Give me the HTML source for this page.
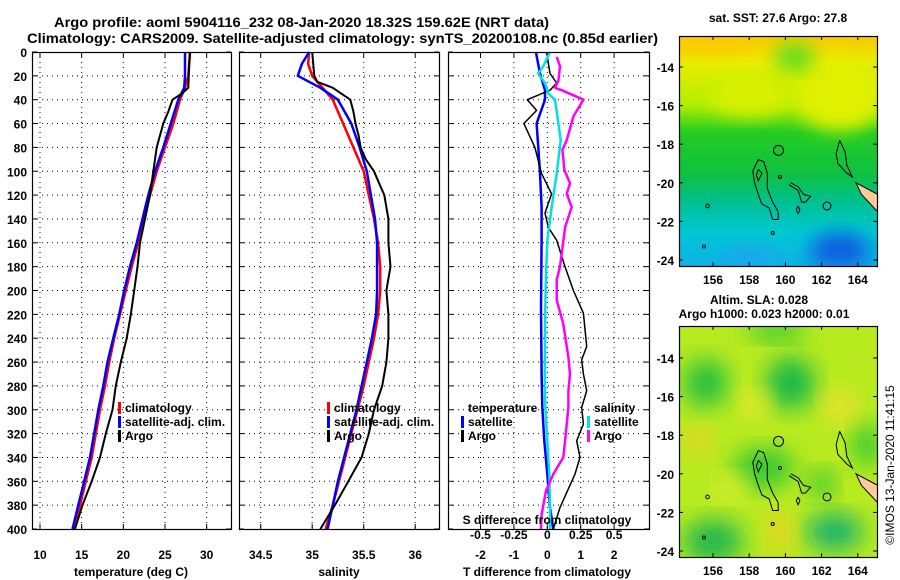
<!DOCTYPE html>
<html><head><meta charset="utf-8">
<style>
html,body{margin:0;padding:0;background:#fff;}
svg{display:block;font-family:"Liberation Sans",Arial,sans-serif;font-weight:bold;}
text{font-size:12px;fill:#000;}
</style></head>
<body>
<svg id="chart" width="900" height="580" viewBox="0 0 900 580" xmlns="http://www.w3.org/2000/svg">
<defs>
<filter id="blur1" x="-30%" y="-30%" width="160%" height="160%"><feGaussianBlur stdDeviation="9"/></filter>
<filter id="blur2" x="-30%" y="-30%" width="160%" height="160%"><feGaussianBlur stdDeviation="12"/></filter>
<clipPath id="clipTop"><rect x="679" y="36" width="198" height="230"/></clipPath>
<clipPath id="clipBot"><rect x="679" y="326" width="198" height="231"/></clipPath>
<linearGradient id="sstGrad" x1="0" y1="0" x2="0" y2="1">
<stop offset="0" stop-color="#f8c800"/><stop offset="0.12" stop-color="#e8ec00"/>
<stop offset="0.3" stop-color="#b0ee00"/><stop offset="0.42" stop-color="#22cc22"/>
<stop offset="0.6" stop-color="#10c040"/><stop offset="0.72" stop-color="#00c090"/>
<stop offset="0.85" stop-color="#00c8d0"/><stop offset="1" stop-color="#10b0e8"/>
</linearGradient>
</defs>
<text x="54" y="27" textLength="495" lengthAdjust="spacingAndGlyphs" style="font-size:14px">Argo profile: aoml 5904116_232 08-Jan-2020 18.32S 159.62E (NRT data)</text>
<text x="27" y="43" textLength="631" lengthAdjust="spacingAndGlyphs" style="font-size:14px">Climatology: CARS2009. Satellite-adjusted climatology: synTS_20200108.nc (0.85d earlier)</text>
<g id="panels"></g>
<g id="maps"></g>
<text transform="translate(894,465) rotate(-90)" text-anchor="middle" style="font-weight:normal;font-size:12px">©IMOS 13-Jan-2020 11:41:15</text>
</svg>
<script>
// ---- data ----
const depthTicks = [0,20,40,60,80,100,120,140,160,180,200,220,240,260,280,300,320,340,360,380,400];
const tempTicks = [10,15,20,25,30];
const salTicks = [34.5,35,35.5,36];
const dTTicks = [-2,-1,0,1,2];
const dSTicks = [-0.5,-0.25,0,0.25,0.5];
const dSTickLabels = ["-0.5","-0.25","0","0.25","0.5"];

const tArgoDepth = [0,10,30,35,40,50,60,80,100,120,140,160,180,200,220,240,260,280,300,320,340,360,380,400];
const tArgo = [28.0,27.9,27.8,27.0,25.9,25.4,24.8,24.0,23.6,23.2,22.6,22.0,21.7,21.3,20.9,20.4,19.7,19.1,18.7,17.9,17.2,16.2,15.1,14.2];
const tClimDepth = [0,20,30,40,60,80,100,120,140,160,180,200,220,240,260,280,300,320,340,360,380,400];
const tClim = [28.0,27.8,27.4,26.8,26.0,25.0,24.0,23.2,22.4,21.8,21.0,20.3,19.6,18.9,18.3,17.8,17.2,16.7,16.2,15.5,14.8,14.0];
const tSat = [27.4,27.4,27.3,26.6,25.7,24.8,23.8,23.0,22.3,21.6,20.8,20.1,19.5,18.8,18.1,17.6,17.0,16.5,16.0,15.3,14.6,13.9];

const sArgoDepth = [0,20,25,30,40,50,60,70,80,90,100,110,120,140,160,180,190,200,220,240,260,280,300,320,340,360,380,400];
const sArgo = [35.0,35.02,35.05,35.2,35.37,35.4,35.42,35.45,35.47,35.52,35.6,35.65,35.7,35.74,35.74,35.76,35.74,35.72,35.74,35.74,35.72,35.68,35.6,35.55,35.48,35.35,35.22,35.08];
const sClimDepth = [0,10,20,30,40,60,80,100,120,140,160,180,200,220,240,260,280,300,320,340,360,380,400];
const sClim = [34.97,34.96,35.0,35.1,35.2,35.3,35.4,35.5,35.55,35.6,35.64,35.66,35.66,35.64,35.6,35.55,35.5,35.44,35.38,35.32,35.26,35.2,35.13];
const sSat = [34.97,34.9,34.86,35.08,35.25,35.38,35.46,35.53,35.57,35.61,35.63,35.63,35.63,35.62,35.58,35.53,35.48,35.43,35.37,35.31,35.25,35.2,35.15];

const dTSatDepth = [0,18,32,40,60,80,102,130,158,214,270,298,326,354,382,400];
const dTSat = [-0.34,-0.22,-0.07,-0.07,-0.32,-0.27,-0.22,-0.17,-0.17,-0.19,-0.17,-0.15,-0.09,0,0.08,0.18];
const dTArgoDepth = [0,18,26,32,40,49,60,80,102,119,135,147,158,180,200,219,247,258,270,284,298,312,326,340,354,382,400];
const dTArgo = [-0.02,0.08,0.28,0.08,-0.6,-0.32,-0.7,-0.37,-0.17,0.13,-0.07,0.03,0.28,0.53,0.78,1.08,1.18,1.03,1.08,1.18,1.03,1.08,0.88,0.98,0.83,0.38,0.18];
const dSSatDepth = [0,12,18,26,35,40,60,74,102,130,158,186,214,270,298,326,354,382,400];
const dSSat = [0.02,-0.03,-0.068,-0.018,0.008,0.058,0.083,0.1,0.07,0.033,0,-0.01,-0.015,-0.018,-0.015,0,0.015,0.02,0.02];
const dSArgoDepth = [4,12,24,30,32,40,54,74,82,99,110,119,130,147,180,191,208,228,256,270,284,298,326,340,354,368,388,400];
const dSArgo = [0.07,0.095,0.083,0.058,0.108,0.27,0.195,0.145,0.113,0.128,0.17,0.145,0.183,0.133,0.095,0.07,0.07,0.12,0.158,0.17,0.158,0.158,0.133,0.12,0.045,-0.01,-0.043,-0.048];

const latTicks = [-14,-16,-18,-20,-22,-24];
const lonTicks = [156,158,160,162,164];

// ---- helpers ----
const NS = "http://www.w3.org/2000/svg";
function mk(tag, attrs, parent){ const e=document.createElementNS(NS,tag); for(const k in attrs) e.setAttribute(k,attrs[k]); if(parent) parent.appendChild(e); return e; }
function txt(x,y,s,anchor,parent,size){ const t=mk('text',{x:x,y:y,'text-anchor':anchor||'start'},parent); if(size) t.style.fontSize=size+'px'; t.textContent=s; return t; }
const PY0=52, PY1=529;
const yD = d => PY0 + (PY1-PY0)*d/400;

const panels = document.getElementById('panels');

function makePanel(name, x0, x1, xs){
  const g = mk('g',{},panels);
  
  
  depthTicks.forEach(d=>{ if(d>0&&d<400){ const l=mk('line',{x1:x0,x2:x1,y1:yD(d),y2:yD(d),stroke:'#000','stroke-width':1,'stroke-dasharray':'1,4'},g);
      }
    mk('line',{x1:x0,x2:x0+5,y1:yD(d),y2:yD(d),stroke:'#000'},g);
    mk('line',{x1:x1-5,x2:x1,y1:yD(d),y2:yD(d),stroke:'#000'},g);
  });
  return g;
}
function frame(g,x0,x1){ const r=mk('rect',{x:x0+0.5,y:PY0+0.5,width:x1-x0,height:PY1-PY0,fill:'none',stroke:'#000','stroke-width':1.2},g);
    }
function line(g, xs, vals, depths, color, w, name){
  const pts = vals.map((v,i)=> xs(v).toFixed(1)+','+yD(depths[i]).toFixed(1)).join(' ');
  const p = mk('polyline',{points:pts,fill:'none',stroke:color,'stroke-width':w,'stroke-linejoin':'round'},g);
  
  
}
function vgrid(g,x,){ const l=mk('line',{x1:x,x2:x,y1:PY0,y2:PY1,stroke:'#000','stroke-width':1,'stroke-dasharray':'1,4'},g);
   
  mk('line',{x1:x,x2:x,y1:PY1-5,y2:PY1,stroke:'#000'},g); mk('line',{x1:x,x2:x,y1:PY0,y2:PY0+5,stroke:'#000'},g); }
function legendItem(g,x,y,color,label,name){
  mk('rect',{x:x,y:y-10,width:3,height:12,fill:color},g);
  const t=txt(x+7,y,label,'start',g);  
}

// Panel 1: temperature
{
  const x0=32,x1=231; const xs=v=>40+(v-10)*8.333;
  const g=makePanel('temperature-panel',x0,x1,xs);
  tempTicks.forEach(t=>{ vgrid(g,xs(t)); const l=txt(xs(t),559,String(t),'middle',g);   });
  depthTicks.forEach(d=>{ const l=txt(27,yD(d)+5,String(d),'end',g);   });
  line(g,xs,tClim,tClimDepth,'#ff0000',2.5,'temp-climatology-line');
  line(g,xs,tSat,tClimDepth,'#0000ff',2.5,'temp-satellite-line');
  line(g,xs,tArgo,tArgoDepth,'#000000',2,'temp-argo-line');
  frame(g,x0,x1);
  const t=txt(131,576,'temperature (deg C)','middle',g);  
  legendItem(g,118,412,'#ff0000','climatology','legend-climatology');
  legendItem(g,118,426,'#0000ff','satellite-adj. clim.','legend-satellite');
  legendItem(g,118,440,'#000000','Argo','legend-argo');
}
// Panel 2: salinity
{
  const x0=239,x1=439; const xs=v=>260.7+(v-34.5)*103;
  const g=makePanel('salinity-panel',x0,x1,xs);
  salTicks.forEach(t=>{ vgrid(g,xs(t)); const l=txt(xs(t),559,String(t),'middle',g);   });
  line(g,xs,sClim,sClimDepth,'#ff0000',2.5,'sal-climatology-line');
  line(g,xs,sSat,sClimDepth,'#0000ff',2.5,'sal-satellite-line');
  line(g,xs,sArgo,sArgoDepth,'#000000',2,'sal-argo-line');
  frame(g,x0,x1);
  const t=txt(339,576,'salinity','middle',g);  
  legendItem(g,327,412,'#ff0000','climatology','legend-climatology');
  legendItem(g,327,426,'#0000ff','satellite-adj. clim.','legend-satellite');
  legendItem(g,327,440,'#000000','Argo','legend-argo');
}
// Panel 3: differences
{
  const x0=448,x1=649; const xs=v=>547.3+v*33.4; const xss=v=>547.3+v*133.6;
  const g=makePanel('difference-panel',x0,x1,xs);
  dTTicks.forEach(t=>{ vgrid(g,xs(t)); const l=txt(xs(t),559,String(t),'middle',g);   });
  line(g,xs,dTSat,dTSatDepth,'#0000ff',2.5,'dT-satellite-line');
  line(g,xs,dTArgo,dTArgoDepth,'#000000',1.5,'dT-argo-line');
  line(g,xss,dSSat,dSSatDepth,'#00e0e0',2.5,'dS-satellite-line');
  line(g,xss,dSArgo,dSArgoDepth,'#ff00ff',2.5,'dS-argo-line');
  frame(g,x0,x1);
  dSTicks.forEach((t,i)=>{ const l=txt(xss(t),539,dSTickLabels[i],'middle',g);   });
  const s=txt(547,524,'S difference from climatology','middle',g);  
  const t=txt(547,576,'T difference from climatology','middle',g);  
  const a=txt(468,412,'temperature','start',g);  
  legendItem(g,461,426,'#0000ff','satellite','legend-t-satellite');
  legendItem(g,461,440,'#000000','Argo','legend-t-argo');
  const b=txt(594,412,'salinity','start',g);  
  legendItem(g,587,426,'#00e0e0','satellite','legend-s-satellite');
  legendItem(g,587,440,'#ff00ff','Argo','legend-s-argo');
}

// ---- maps ----
const maps = document.getElementById('maps');
const islands = [
  [[158.5,-18.8],[158.8,-18.9],[159.0,-19.5],[159.0,-20.3],[159.3,-21.0],[159.6,-21.5],[159.6,-21.9],[159.3,-21.9],[159.1,-21.3],[158.7,-21.1],[158.5,-20.6],[158.3,-20.0],[158.2,-19.4],[158.5,-18.8]],
  [[158.5,-19.3],[158.7,-19.5],[158.5,-19.9],[158.4,-19.6],[158.5,-19.3]],
  [[163.0,-17.8],[163.3,-18.4],[163.4,-19.1],[163.7,-19.7],[163.4,-19.5],[162.9,-19.0],[162.8,-18.5],[163.0,-17.8]],
  [[160.3,-20.0],[160.7,-20.2],[161.0,-20.6],[161.4,-20.7],[161.1,-21.0],[160.9,-21.0],[160.7,-20.4],[160.2,-20.1]],
  [[160.7,-21.2],[160.8,-21.4],[160.7,-21.6],[160.6,-21.4],[160.7,-21.2]]
];
const dots = [[162.3,-21.2,0.22],[155.7,-21.2,0.1],[159.3,-22.6,0.08],[155.5,-23.3,0.08],[159.7,-19.7,0.05]];
const land = [[163.9,-20.0],[165.1,-20.6],[165.1,-21.5],[164.2,-20.6]];

function makeMap(name, y0, y1, clip, drawFill){
  const g = mk('g',{},maps);
  
  
  const x0=679,x1=877, lat0=-14, yLat0 = y0===36?67:358;
  const px = lon => 713 + (lon-156)*18.1;
  const py = lat => yLat0 + (lat0-lat)*19.3;
  const inner = mk('g',{'clip-path':'url(#'+clip+')'},g);
  drawFill(inner,px,py,x0,y0,x1,y1);
  const c=mk('g',{},inner);
  islands.forEach(isl=>{ mk('polyline',{points:isl.map(p=>px(p[0]).toFixed(1)+','+py(p[1]).toFixed(1)).join(' '),fill:'none',stroke:'#000','stroke-width':1},c); });
  dots.forEach(d=>mk('circle',{cx:px(d[0]),cy:py(d[1]),r:Math.max(1.5,d[2]*18),fill:'none',stroke:'#000','stroke-width':1},c));
  mk('polygon',{points:land.map(p=>px(p[0])+','+py(p[1])).join(' '),fill:'#ffcc99',stroke:'#000','stroke-width':1},c);
  const pos=mk('circle',{cx:px(159.62),cy:py(-18.32),r:5,fill:'none',stroke:'#000','stroke-width':1},g);
   
  const fr=mk('rect',{x:x0+0.5,y:y0+0.5,width:x1-x0,height:y1-y0,fill:'none',stroke:'#000','stroke-width':1.2},g);
   
  latTicks.forEach(l=>{ const t=txt(674,py(l)+5,String(l),'end',g);  
    mk('line',{x1:x0,x2:x0+4,y1:py(l),y2:py(l),stroke:'#000'},g); mk('line',{x1:x1-4,x2:x1,y1:py(l),y2:py(l),stroke:'#000'},g); });
  lonTicks.forEach(l=>{ const t=txt(px(l),y1+18,String(l),'middle',g);  
    mk('line',{x1:px(l),x2:px(l),y1:y1-4,y2:y1,stroke:'#000'},g); mk('line',{x1:px(l),x2:px(l),y1:y0,y2:y0+4,stroke:'#000'},g); });
  return g;
}
function blob(g,px,py,lon,lat,rx,ry,col,f){ mk('ellipse',{cx:px(lon),cy:py(lat),rx:rx,ry:ry,fill:col,filter:'url(#'+(f||'blur1')+')'},g); }

makeMap('sst-map',36,266,'clipTop',(g,px,py,x0,y0,x1,y1)=>{
  mk('rect',{x:x0,y:y0,width:x1-x0,height:y1-y0,fill:'url(#sstGrad)'},g);
  blob(g,px,py,163,-15.5,45,35,'#e0f000');
  blob(g,px,py,158,-15.5,40,20,'#d8f000');
  blob(g,px,py,160.5,-13.5,20,14,'#60dd20');
  blob(g,px,py,163,-23.5,30,18,'#1060e0');
  blob(g,px,py,158,-23.8,25,8,'#20a0f0');
  blob(g,px,py,156,-12.8,40,8,'#ffc800');
});
const t1=txt(778,22,'sat. SST: 27.6 Argo: 27.8','middle',maps);  

makeMap('sla-map',326,557,'clipBot',(g,px,py,x0,y0,x1,y1)=>{
  mk('rect',{x:x0,y:y0,width:x1-x0,height:y1-y0,fill:'#b8ea20'},g);
  blob(g,px,py,155.6,-15.3,22,24,'#22c040','blur2');
  blob(g,px,py,160.3,-15.3,24,26,'#18b848','blur2');
  blob(g,px,py,159.5,-12.6,30,10,'#30c830','blur2');
  blob(g,px,py,158.8,-19.7,30,20,'#30c830','blur2');
  blob(g,px,py,162.0,-20.5,14,14,'#30c830','blur2');
  blob(g,px,py,156.0,-23.5,30,22,'#20b850','blur2');
  blob(g,px,py,162.7,-23.0,28,18,'#10b070','blur2');
  blob(g,px,py,164.5,-18.5,14,22,'#30c830','blur2');
  blob(g,px,py,158.3,-16.4,14,12,'#f0e830','blur2');
  blob(g,px,py,163.0,-16.5,16,16,'#f0e030','blur2');
  blob(g,px,py,155.2,-18.3,12,14,'#f0d020','blur2');
  blob(g,px,py,157.0,-20.7,14,12,'#e8f030','blur2');
  blob(g,px,py,159.7,-23.0,14,16,'#f0d020','blur2');
});
const t2=txt(759,304,'Altim. SLA: 0.028','middle',maps);  
const t3=txt(764,318,'Argo h1000: 0.023 h2000: 0.01','middle',maps);  
</script>
</body></html>
